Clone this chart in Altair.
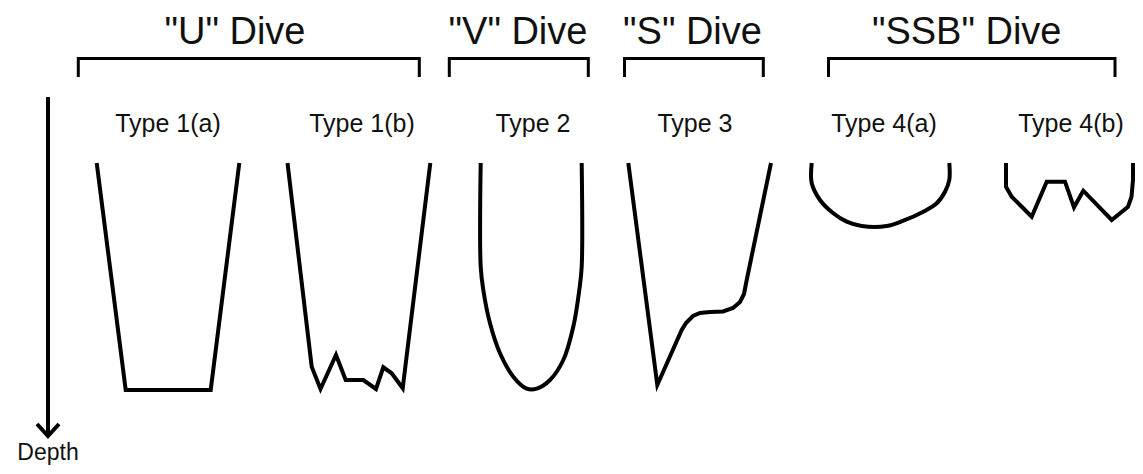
import altair as alt
import pandas as pd

# ---- Dive profiles: horizontal position and depth (diagram units, depth grows downward)
type1a_x = [96.7, 125.7, 210.7, 239.3]
type1a_depth = [163, 390, 390, 163]

type1b_x = [287.5, 311.7, 320.5, 336, 345.7, 363.3, 376, 383.3, 391.7, 402.7, 430.3]
type1b_depth = [163, 366.7, 389, 355, 380, 380, 389, 367.3, 373.3, 388.3, 163]

type2_x = [480.7, 480.7, 483.3, 490, 500, 513.3, 526.7, 536.7, 550, 563.3, 573.3, 579.3, 581.7, 581.7]
type2_depth = [163, 266.7, 290, 323.3, 353.3, 376.7, 388.7, 388.7, 380, 360, 326.7, 290, 266.7, 163]

type3_x = [628.3, 657.3, 681.7, 686, 693, 700, 710, 723, 733, 740, 744, 746.7, 771]
type3_depth = [163, 385, 330, 323, 316, 313, 312, 311.5, 308, 302, 294, 280, 163]

type4a_x = [811.7, 811.7, 820, 833.3, 846.7, 861.7, 886.7, 903.3, 923.3, 936.7, 945, 949.3, 949.3]
type4a_depth = [163, 183, 200, 213.3, 221.7, 226, 226, 220.7, 211.7, 203.3, 191.7, 180, 163]

type4b_x = [1006, 1006, 1011.7, 1020, 1031.7, 1046.7, 1065, 1074, 1083.3, 1111.7, 1128, 1131.5, 1133, 1133]
type4b_depth = [163, 186.7, 196.7, 205, 216.7, 181.7, 181.7, 207.3, 190.7, 220, 206.7, 196.7, 180, 163]

# ---- Group titles and brackets
group_titles = ['"U" Dive', '"V" Dive', '"S" Dive', '"SSB" Dive']
group_title_x = [235, 518, 692.5, 966.7]
bracket_left = [78.3, 449.3, 624.5, 828.5]
bracket_right = [419.3, 588.3, 763.3, 1115]
bracket_top = 58.5
bracket_end = 77

# ---- Type labels
type_labels = ["Type 1(a)", "Type 1(b)", "Type 2", "Type 3", "Type 4(a)", "Type 4(b)"]
type_label_x = [168, 362, 533, 695, 884, 1071]

# ---- Depth arrow
arrow_x = 48
arrow_top = 97
arrow_tip = 436

# ---------------------------------------------------------------------------
def profile_rows(name, xs, ds):
    return [{"shape": name, "i": i, "x": x, "d": d} for i, (x, d) in enumerate(zip(xs, ds))]

straight = pd.DataFrame(
    profile_rows("1a", type1a_x, type1a_depth)
    + profile_rows("1b", type1b_x, type1b_depth)
    + profile_rows("3", type3_x, type3_depth)
    + profile_rows("4b", type4b_x, type4b_depth)
)
curved = pd.DataFrame(
    profile_rows("2", type2_x, type2_depth)
    + profile_rows("4a", type4a_x, type4a_depth)
)

bracket_rows = []
for k, (l, r) in enumerate(zip(bracket_left, bracket_right)):
    bracket_rows += profile_rows(f"b{k}", [l, l, r, r], [bracket_end, bracket_top, bracket_top, bracket_end])
brackets = pd.DataFrame(bracket_rows)

arrow_shaft = pd.DataFrame(profile_rows("shaft", [arrow_x, arrow_x], [arrow_top, arrow_tip - 3]))
arrow_head = pd.DataFrame(profile_rows("head", [arrow_x - 11, arrow_x, arrow_x + 11],
                                       [arrow_tip - 12, arrow_tip, arrow_tip - 12]))

titles = pd.DataFrame({"text": group_titles, "x": group_title_x, "d": [43.5] * 4})
labels = pd.DataFrame({"text": type_labels, "x": type_label_x, "d": [132] * 6})
depth_lbl = pd.DataFrame({"text": ["Depth"], "x": [arrow_x], "d": [459.5]})

X = alt.X("x:Q", scale=alt.Scale(domain=[8, 1135], nice=False, zero=False), axis=None)
Y = alt.Y("d:Q", scale=alt.Scale(domain=[8, 466], nice=False, zero=False, reverse=True), axis=None)

def lines(df, width, interp="linear"):
    return alt.Chart(df).mark_line(
        color="black", strokeWidth=width, interpolate=interp,
        strokeJoin="miter", strokeCap="butt"
    ).encode(x=X, y=Y, detail="shape:N", order="i:Q")

FONT = "Liberation Sans"
def texts(df, size):
    return alt.Chart(df).mark_text(
        font=FONT, fontSize=size, color="#111111", align="center", baseline="alphabetic"
    ).encode(x=X, y=Y, text="text:N")

chart = alt.layer(
    lines(straight, 4),
    lines(curved, 4, "catmull-rom"),
    lines(brackets, 3),
    lines(arrow_shaft, 4),
    lines(arrow_head, 4),
    texts(titles, 38),
    texts(labels, 25),
    texts(depth_lbl, 23),
).properties(
    width=1127, height=458, padding=0, autosize="none", background="white"
).configure_view(stroke=None)

chart.save("out.html", embed_options={"renderer": "svg", "actions": False})
